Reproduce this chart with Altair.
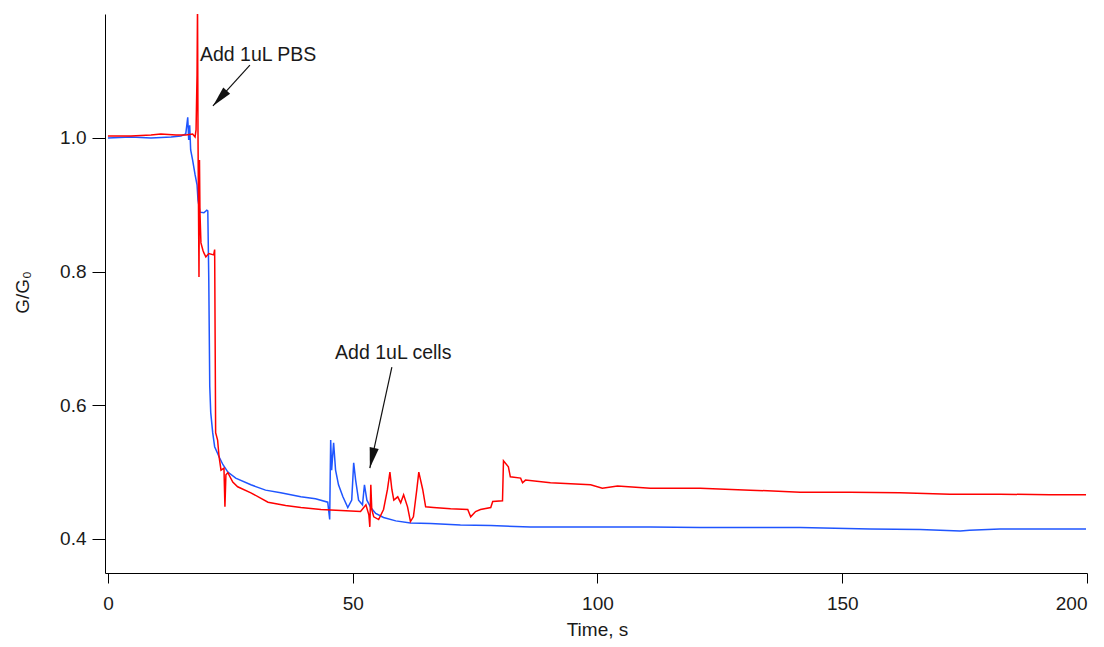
import math
import altair as alt
import pandas as pd

# ---------------- data ----------------
blue_t = [0, 4.7, 8.8, 12.9, 14.9, 15.9, 16.3, 16.5, 16.7, 16.9, 17.3, 17.8, 18.2, 18.4, 18.8,
          19.6, 20.2, 20.4, 20.6, 20.8, 21.0, 21.4, 21.8, 22.7, 23.5, 24.5, 26.1, 29.2, 32.2,
          35.3, 39.4, 42.4, 44.9, 45.3, 45.5, 45.7, 46.1, 46.5, 47.1, 48.0, 49.0, 49.8, 50.2,
          50.6, 51.2, 52.0, 52.4, 52.9, 53.7, 54.7, 56.3, 58.8, 61.8, 65.9, 72.0, 78.2, 86.3,
          100.6, 110.8, 121.0, 141.4, 155.7, 165.9, 170.0, 174.1, 176.0, 182.2, 199.8]
blue_v = [1.000, 1.0015, 1.000, 1.0015, 1.003, 1.006, 1.031, 0.997, 1.019, 0.982, 0.967, 0.945,
          0.930, 0.907, 0.889, 0.888, 0.892, 0.891, 0.788, 0.628, 0.589, 0.559, 0.538, 0.523,
          0.511, 0.500, 0.491, 0.481, 0.473, 0.469, 0.463, 0.460, 0.455, 0.429, 0.548, 0.503,
          0.544, 0.503, 0.481, 0.463, 0.447, 0.458, 0.514, 0.488, 0.458, 0.451, 0.481, 0.458,
          0.447, 0.438, 0.432, 0.427, 0.424, 0.423, 0.421, 0.420, 0.418, 0.418, 0.418, 0.417,
          0.417, 0.415, 0.414, 0.413, 0.412, 0.413, 0.415, 0.415]

red_t = [0, 4.7, 8.8, 10.8, 13.9, 15.9, 17.3, 17.8, 18.0, 18.2, 18.3, 18.4, 18.6, 18.7, 18.8,
         19.0, 19.4, 19.6, 20.0, 20.6, 21.6, 21.8, 22.0, 22.4, 22.7, 23.1, 23.7, 23.9, 24.1,
         24.5, 25.5, 26.5, 29.2, 32.7, 36.3, 39.4, 43.5, 48.6, 51.6, 52.7, 53.3, 53.5, 53.7,
         53.9, 54.3, 55.3, 56.3, 57.1, 57.6, 58.0, 58.4, 59.2, 59.8, 60.4, 61.2, 61.8, 62.4,
         63.1, 63.5, 64.3, 64.9, 66.5, 70.0, 73.5, 74.1, 75.1, 76.1, 78.2, 78.6, 80.6, 80.8,
         81.8, 82.2, 84.3, 84.7, 85.3, 90.4, 98.6, 101.0, 104.1, 110.8, 121.0, 131.2, 141.4,
         151.6, 161.8, 172.0, 182.2, 192.4, 199.8]
red_v = [1.003, 1.003, 1.0045, 1.006, 1.0045, 1.0045, 1.006, 1.0015, 1.012, 1.094, 1.20, 1.0015,
         0.792, 0.967, 0.888, 0.843, 0.832, 0.828, 0.822, 0.827, 0.825, 0.833, 0.559, 0.548,
         0.523, 0.503, 0.506, 0.448, 0.496, 0.499, 0.485, 0.478, 0.469, 0.455, 0.450, 0.447,
         0.444, 0.442, 0.441, 0.451, 0.436, 0.418, 0.481, 0.444, 0.433, 0.429, 0.444, 0.474,
         0.500, 0.474, 0.458, 0.463, 0.454, 0.466, 0.448, 0.426, 0.433, 0.474, 0.500, 0.474,
         0.448, 0.447, 0.445, 0.444, 0.433, 0.441, 0.444, 0.447, 0.456, 0.457, 0.517, 0.508,
         0.493, 0.491, 0.484, 0.488, 0.484, 0.481, 0.476, 0.479, 0.476, 0.476, 0.473, 0.470,
         0.470, 0.469, 0.467, 0.467, 0.466, 0.466]

x_ticks = [0, 50, 100, 150, 200]
y_ticks = [0.4, 0.6, 0.8, 1.0]
x_domain = [-0.6, 200]
y_domain = [0.349, 1.1855]

note_text = ["Add 1uL PBS", "Add 1uL cells"]
note_t = [18.8, 46.4]
note_v = [1.124, 0.678]
arrow_tail_t = [29.0, 58.0]
arrow_tail_v = [1.109, 0.657]
arrow_tip_t = [21.45, 53.5]
arrow_tip_v = [1.048, 0.506]

# ---------------- layout ----------------
W, H = 982, 559
FONT = "Liberation Sans"
FS = 19
px_per_t = W / (x_domain[1] - x_domain[0])
px_per_v = H / (y_domain[1] - y_domain[0])

angles = []
for a, b, c, d in zip(arrow_tail_t, arrow_tail_v, arrow_tip_t, arrow_tip_v):
    dx = (c - a) * px_per_t
    dy = -(d - b) * px_per_v
    angles.append(math.degrees(math.atan2(-dx, dy)) % 360)

blue_df = pd.DataFrame({"t": blue_t, "v": blue_v})
red_df = pd.DataFrame({"t": red_t, "v": red_v})
notes_df = pd.DataFrame({"label": note_text, "t": note_t, "v": note_v})
arrows_df = pd.DataFrame({"t": arrow_tail_t, "v": arrow_tail_v,
                          "t2": arrow_tip_t, "v2": arrow_tip_v, "ang": angles})

xs = alt.Scale(domain=x_domain, nice=False, zero=False)
ys = alt.Scale(domain=y_domain, nice=False, zero=False)

x_axis = alt.Axis(values=x_ticks, format="d", title="Time, s", grid=False,
                  tickSize=10, labelPadding=11, titleX=492, titleY=62,
                  titleBaseline="alphabetic", titleAlign="center",
                  labelFont=FONT, labelFontSize=FS, labelColor="#1a1a1a",
                  titleFont=FONT, titleFontSize=FS, titleColor="#1a1a1a",
                  titleFontWeight="normal", domainColor="#000000", tickColor="#000000")
y_axis = alt.Axis(values=y_ticks, format=".1f", title="G/G₀", grid=False,
                  tickSize=13, labelPadding=6, titleX=-83, titleY=278, titleAngle=270,
                  titleBaseline="middle", titleAlign="center",
                  labelFont=FONT, labelFontSize=FS, labelColor="#1a1a1a",
                  titleFont=FONT, titleFontSize=FS, titleColor="#1a1a1a",
                  titleFontWeight="normal", domainColor="#000000", tickColor="#000000")

blue = alt.Chart(blue_df).mark_line(color="#1f55ff", strokeWidth=1.5, clip=True).encode(
    x=alt.X("t:Q", scale=xs, axis=x_axis),
    y=alt.Y("v:Q", scale=ys, axis=y_axis),
    order="t:Q",
)
red = alt.Chart(red_df).mark_line(color="#ff0000", strokeWidth=1.5, clip=True).encode(
    x=alt.X("t:Q", scale=xs),
    y=alt.Y("v:Q", scale=ys),
    order="t:Q",
)
texts = alt.Chart(notes_df).mark_text(align="left", baseline="middle", font=FONT,
                                      fontSize=FS + 0.5, color="#1a1a1a").encode(
    x=alt.X("t:Q", scale=xs), y=alt.Y("v:Q", scale=ys), text="label:N")
shafts = alt.Chart(arrows_df).mark_rule(color="#111111", strokeWidth=1.2).encode(
    x=alt.X("t:Q", scale=xs), y=alt.Y("v:Q", scale=ys),
    x2="t2:Q", y2="v2:Q")
heads = alt.Chart(arrows_df).mark_point(
    shape="M0,0 L-0.45,-2 L0.45,-2 Z", filled=True, color="#111111", opacity=1,
    size=420, strokeWidth=0).encode(
    x=alt.X("t2:Q", scale=xs), y=alt.Y("v2:Q", scale=ys),
    angle=alt.Angle("ang:Q", scale=None))

chart = alt.layer(blue, red, shafts, heads, texts).properties(
    width=W, height=H,
    background="white",
    autosize=alt.AutoSizeParams(type="none"),
    padding={"left": 97, "top": 6, "right": 9, "bottom": 66},
).configure_view(stroke=None).configure_axis(
    domainColor="#000000", domainWidth=1, tickColor="#000000", tickWidth=1,
    labelFont=FONT, labelFontSize=FS, labelColor="#1a1a1a",
    titleFont=FONT, titleFontSize=FS, titleColor="#1a1a1a", titleFontWeight="normal",
)

chart.save("out.html", embed_options={"renderer": "svg", "actions": False})
